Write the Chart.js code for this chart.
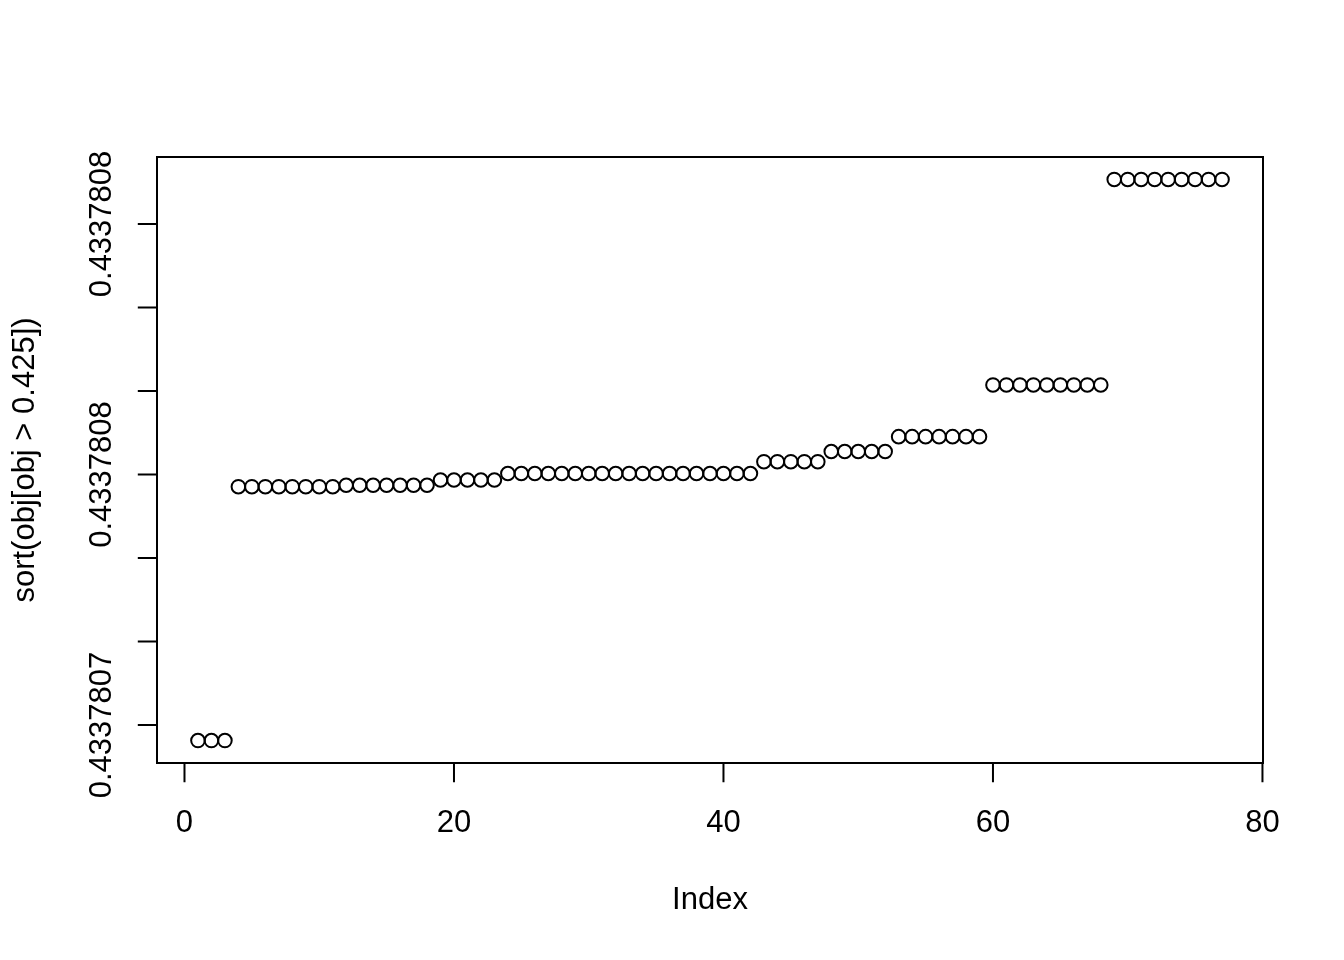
<!DOCTYPE html>
<html>
<head>
<meta charset="utf-8">
<script src="https://cdn.jsdelivr.net/npm/chart.js@4.4.0/dist/chart.umd.min.js"></script>
<style>
  html, body { margin: 0; padding: 0; background: #fff; }
  canvas { display: block; }
</style>
</head>
<body>
<canvas id="plot" width="1344" height="960"></canvas>
<script>
// sorted values, in units of one y tick step (tick 0 = bottom tick)
const yValues = [
  -0.186, -0.186, -0.186,
  2.854, 2.854, 2.854, 2.854, 2.854, 2.854, 2.854, 2.854,
  2.871, 2.871, 2.871, 2.871, 2.871, 2.871, 2.871,
  2.934, 2.934, 2.934, 2.934, 2.934,
  3.012, 3.012, 3.012, 3.012, 3.012, 3.012, 3.012, 3.012, 3.012, 3.012,
  3.012, 3.012, 3.012, 3.012, 3.012, 3.012, 3.012, 3.012, 3.012,
  3.153, 3.153, 3.153, 3.153, 3.153,
  3.275, 3.275, 3.275, 3.275, 3.275,
  3.453, 3.453, 3.453, 3.453, 3.453, 3.453, 3.453,
  4.072, 4.072, 4.072, 4.072, 4.072, 4.072, 4.072, 4.072, 4.072,
  6.533, 6.533, 6.533, 6.533, 6.533, 6.533, 6.533, 6.533, 6.533
];
const xTicks = [0, 20, 40, 60, 80];
const yTicks = [0, 1, 2, 3, 4, 5, 6];
const yTickLabels = ["0.4337807", "", "", "0.4337808", "", "", "0.4337808"];
const xTitle = "Index";
const yTitle = "sort(obj[obj > 0.425])";

const points = yValues.map((v, i) => ({ x: i + 1, y: v }));

// R style 4% range extension
function extend(arr) {
  const lo = Math.min(...arr), hi = Math.max(...arr);
  const d = (hi - lo) * 0.04;
  return [lo - d, hi + d];
}
const [xMin, xMax] = extend(points.map(p => p.x));
const [yMin, yMax] = extend(yValues);

const FONT = '31px "Liberation Sans", Arial, Helvetica, sans-serif';
const LINE = 38.4; // one margin line in px

const rAxes = {
  id: "rAxes",
  afterDraw(chart) {
    const ctx = chart.ctx;
    const a = chart.chartArea;
    const xs = chart.scales.x, ys = chart.scales.y;
    ctx.save();
    ctx.strokeStyle = "#000";
    ctx.fillStyle = "#000";
    ctx.lineWidth = 2;
    // box
    ctx.strokeRect(a.left, a.top, a.right - a.left, a.bottom - a.top);

    const tick = LINE * 0.5;
    // x axis
    ctx.beginPath();
    ctx.moveTo(xs.getPixelForValue(xTicks[0]), a.bottom);
    ctx.lineTo(xs.getPixelForValue(xTicks[xTicks.length - 1]), a.bottom);
    xTicks.forEach(t => {
      const px = xs.getPixelForValue(t);
      ctx.moveTo(px, a.bottom);
      ctx.lineTo(px, a.bottom + tick);
    });
    // y axis
    ctx.moveTo(a.left, ys.getPixelForValue(yTicks[0]));
    ctx.lineTo(a.left, ys.getPixelForValue(yTicks[yTicks.length - 1]));
    yTicks.forEach(t => {
      const py = ys.getPixelForValue(t);
      ctx.moveTo(a.left, py);
      ctx.lineTo(a.left - tick, py);
    });
    ctx.stroke();

    ctx.font = FONT;
    ctx.textBaseline = "alphabetic";
    ctx.textAlign = "center";
    xTicks.forEach(t => {
      ctx.fillText(String(t), xs.getPixelForValue(t), a.bottom + LINE * 1.8);
    });
    ctx.fillText(xTitle, (a.left + a.right) / 2, a.bottom + LINE * 3.8);

    yTicks.forEach((t, i) => {
      if (!yTickLabels[i]) return;
      ctx.save();
      ctx.translate(a.left - LINE * 1.2, ys.getPixelForValue(t));
      ctx.rotate(-Math.PI / 2);
      ctx.fillText(yTickLabels[i], 0, 0);
      ctx.restore();
    });
    ctx.save();
    ctx.translate(a.left - LINE * 3.2, (a.top + a.bottom) / 2);
    ctx.rotate(-Math.PI / 2);
    ctx.fillText(yTitle, 0, 0);
    ctx.restore();
    ctx.restore();
  }
};

new Chart(document.getElementById("plot"), {
  type: "scatter",
  data: {
    datasets: [{
      data: points,
      pointStyle: "circle",
      pointRadius: 6.8,
      pointBorderWidth: 2,
      pointBorderColor: "#000",
      pointBackgroundColor: "rgba(0,0,0,0)"
    }]
  },
  options: {
    responsive: false,
    animation: false,
    devicePixelRatio: 1,
    layout: { padding: { left: 157, top: 157, right: 81, bottom: 197 } },
    scales: {
      x: { type: "linear", min: xMin, max: xMax, display: false },
      y: { type: "linear", min: yMin, max: yMax, display: false }
    },
    plugins: { legend: { display: false }, tooltip: { enabled: false } }
  },
  plugins: [rAxes]
});
</script>
</body>
</html>
